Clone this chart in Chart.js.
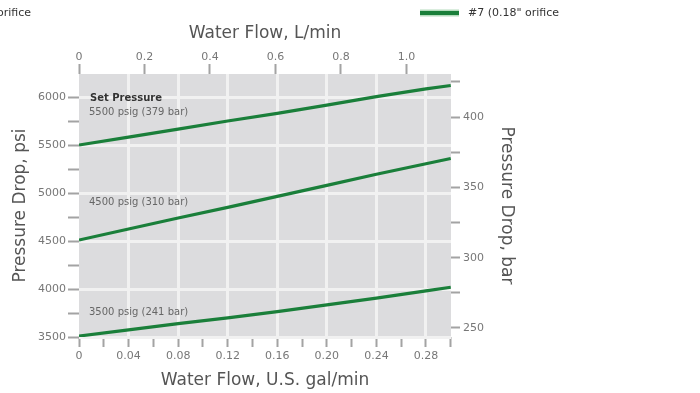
<!DOCTYPE html>
<html>
<head>
<meta charset="utf-8">
<script src="https://cdn.jsdelivr.net/npm/chart.js@4/dist/chart.umd.min.js"></script>
<style>
  html, body { margin: 0; padding: 0; background: #ffffff; }
  #wrap { width: 700px; height: 393px; position: relative; }
</style>
</head>
<body>
<div id="wrap"><canvas id="c"></canvas></div>
<script>
// Flow values in U.S. gal/min (bottom axis)
const flowGpm = [0, 0.04, 0.08, 0.12, 0.16, 0.20, 0.24, 0.28, 0.30];
// Pressure drop (psi) for each set pressure
const psi5500 = [5500, 5583, 5665, 5750, 5830, 5915, 6005, 6085, 6120];
const psi4500 = [4510, 4625, 4740, 4850, 4965, 5080, 5195, 5305, 5360];
const psi3500 = [3510, 3575, 3640, 3700, 3765, 3835, 3905, 3980, 4018];
const seriesLabels = ['5500 psig (379 bar)', '4500 psig (310 bar)', '3500 psig (241 bar)'];
const legendLabel = '#7 (0.18" orifice';
const cutLegendLabel = 'orifice';
// Tick steps (minor step, labelled step) per axis
const gpmTicks = { minor: 0.02, major: 0.04 };
const lpmTicks = { minor: 0.2, major: 0.2 };
const psiTicks = { minor: 250, major: 500 };
const barTicks = { minor: 25, major: 50 };

const FONT = "'DejaVu Sans', sans-serif";
const GREEN = '#1a7f3a';
const TICK_GRAY = '#a3a3a3';

function pts(ys) { return flowGpm.map((x, i) => ({ x: x, y: ys[i] })); }

function isMult(v, step) {
  const r = Math.round(v / step);
  return Math.abs(v - r * step) < step * 1e-4;
}

function buildTicks(step) {
  return (scale) => {
    const out = [];
    const start = Math.ceil(scale.min / step - 1e-9);
    for (let k = start; k * step <= scale.max + 1e-9; k++) {
      out.push({ value: Math.round(k * step * 1e6) / 1e6 });
    }
    scale.ticks = out;
  };
}

const bgPlugin = {
  id: 'plotBg',
  beforeDraw(chart) {
    const { ctx, chartArea: a } = chart;
    ctx.save();
    ctx.fillStyle = '#dcdcde';
    ctx.fillRect(a.left, a.top, a.right - a.left, a.bottom - a.top);
    ctx.restore();
  }
};

const textPlugin = {
  id: 'annots',
  afterDraw(chart) {
    const { ctx, chartArea: a } = chart;
    const ys = chart.scales.y;
    ctx.save();
    ctx.textBaseline = 'middle';
    ctx.textAlign = 'left';
    ctx.fillStyle = '#333';
    ctx.font = "bold 10px " + FONT;
    ctx.fillText('Set Pressure', a.left + 11, ys.getPixelForValue(5985));
    ctx.fillStyle = '#666';
    ctx.font = "10px " + FONT;
    ctx.fillText(seriesLabels[0], a.left + 10, ys.getPixelForValue(5840));
    ctx.fillText(seriesLabels[1], a.left + 10, ys.getPixelForValue(4905));
    ctx.fillText(seriesLabels[2], a.left + 10, ys.getPixelForValue(3760));
    // legend
    const ly = 13;
    ctx.lineCap = 'butt';
    ctx.strokeStyle = '#b5dcbd';
    ctx.lineWidth = 7;
    ctx.beginPath(); ctx.moveTo(420, ly); ctx.lineTo(459, ly); ctx.stroke();
    ctx.strokeStyle = GREEN;
    ctx.lineWidth = 4;
    ctx.beginPath(); ctx.moveTo(420, ly); ctx.lineTo(459, ly); ctx.stroke();
    ctx.fillStyle = '#333';
    ctx.font = "11px " + FONT;
    ctx.fillText(legendLabel, 468, ly);
    ctx.fillText(cutLegendLabel, -3, ly);
    ctx.restore();
  }
};

function gridColor(step, skipZero) {
  return (c) => {
    if (!c.tick) return 'transparent';
    const v = c.tick.value;
    if (skipZero && Math.abs(v) < 1e-9) return 'transparent';
    return isMult(v, step) ? '#f1f1f1' : 'transparent';
  };
}

const tickFont = { family: FONT, size: 11 };
const titleFont = { family: FONT, size: 17 };

new Chart(document.getElementById('c'), {
  type: 'line',
  data: {
    datasets: [
      { label: seriesLabels[0], data: pts(psi5500) },
      { label: seriesLabels[1], data: pts(psi4500) },
      { label: seriesLabels[2], data: pts(psi3500) }
    ].map(d => Object.assign(d, {
      borderColor: GREEN, borderWidth: 3.2, pointRadius: 0, tension: 0,
      fill: false, xAxisID: 'x', yAxisID: 'y'
    }))
  },
  options: {
    responsive: true,
    maintainAspectRatio: false,
    animation: false,
    devicePixelRatio: 1,
    layout: { padding: { left: 0, right: 183, top: 0, bottom: 0 } },
    plugins: { legend: { display: false }, tooltip: { enabled: false } },
    scales: {
      x: {
        type: 'linear', position: 'bottom', min: 0, max: 0.3002,
        afterFit(s) { s.height = 56; },
        afterBuildTicks: buildTicks(gpmTicks.minor),
        border: { display: false },
        grid: { color: gridColor(gpmTicks.major, true), lineWidth: 3, tickLength: 10, tickWidth: 2, tickColor: TICK_GRAY },
        ticks: {
          padding: 3, maxRotation: 0, autoSkip: false, color: '#777', font: tickFont,
          callback(v) {
            if (!isMult(v, gpmTicks.major)) return '';
            return Math.abs(v) < 1e-9 ? '0' : v.toFixed(2);
          }
        },
        title: { display: true, text: 'Water Flow, U.S. gal/min', color: '#555', font: titleFont, padding: { top: 0, bottom: 2 } }
      },
      x2: {
        type: 'linear', position: 'top', min: 0, max: 1.136,
        afterFit(s) { s.height = 74; },
        afterBuildTicks: buildTicks(lpmTicks.minor),
        border: { display: false },
        grid: { drawOnChartArea: false, tickLength: 10, tickWidth: 2, tickColor: TICK_GRAY },
        ticks: {
          padding: 0, maxRotation: 0, autoSkip: false, color: '#777', font: tickFont,
          callback(v) { return Math.abs(v) < 1e-9 ? '0' : v.toFixed(1); }
        },
        title: { display: true, text: 'Water Flow, L/min', color: '#555', font: titleFont, padding: { top: 23, bottom: 0 } }
      },
      y: {
        type: 'linear', position: 'left', min: 3500, max: 6240,
        afterFit(s) { s.width = 79; },
        afterBuildTicks: buildTicks(psiTicks.minor),
        border: { display: false },
        grid: { color: gridColor(psiTicks.major, false), lineWidth: 3, tickLength: 11, tickWidth: 2, tickColor: TICK_GRAY },
        ticks: {
          padding: 2, autoSkip: false, color: '#777', font: tickFont,
          callback(v) { return isMult(v, psiTicks.major) ? String(Math.round(v)) : ''; }
        },
        title: { display: true, text: 'Pressure Drop, psi', color: '#555', font: titleFont, padding: { top: 10, bottom: 0 } }
      },
      y2: {
        type: 'linear', position: 'right', min: 243.6, max: 430.6,
        afterFit(s) { s.width = 66; },
        afterBuildTicks: buildTicks(barTicks.minor),
        border: { display: false },
        grid: { drawOnChartArea: false, tickLength: 9, tickWidth: 2, tickColor: TICK_GRAY },
        ticks: {
          padding: 3, autoSkip: false, color: '#777', font: tickFont,
          callback(v) { return isMult(v, barTicks.major) ? String(Math.round(v)) : ''; }
        },
        title: { display: true, text: 'Pressure Drop, bar', color: '#555', font: titleFont, padding: { top: 0, bottom: 0 } }
      }
    }
  },
  plugins: [bgPlugin, textPlugin]
});
</script>
</body>
</html>
